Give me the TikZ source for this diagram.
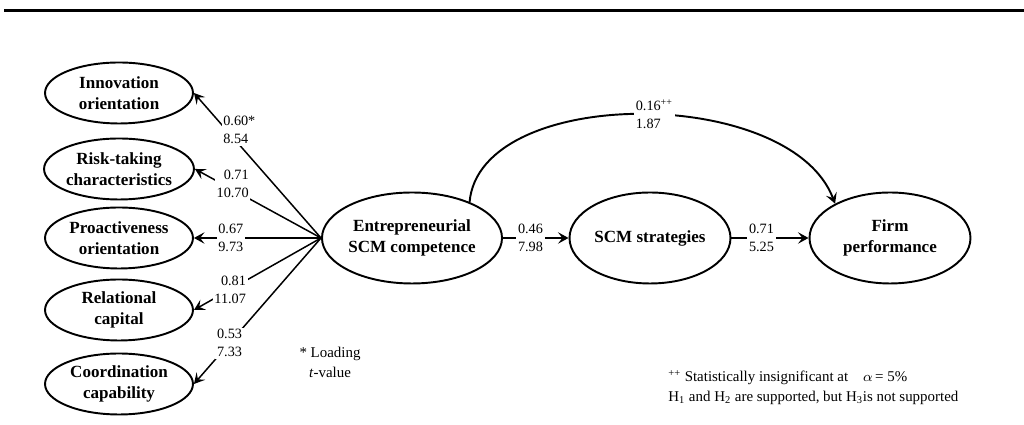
\documentclass[tikz,border=0pt]{standalone}
\usepackage{fontspec}
\setmainfont{Liberation Serif}
\usetikzlibrary{shapes.geometric,arrows.meta}

\begin{document}
\begin{tikzpicture}[x=0.02cm, y=0.02cm, >={Stealth[length=6pt,width=6.5pt,inset=2.5pt]},
    latent/.style={draw, ellipse, line width=1.1pt, inner sep=0pt, align=center, font=\fontsize{9.7}{12.3}\selectfont\bfseries},
    factor/.style={latent, minimum width=2.96cm, minimum height=1.22cm},
    construct/.style={latent, minimum width=3.22cm, minimum height=1.82cm},
    est/.style={fill=white, inner sep=1pt, align=right, font=\fontsize{8.1}{10.2}\selectfont},
    note/.style={inner sep=0pt, font=\fontsize{8.5}{11.4}\selectfont}]
    \useasboundingbox (0,0) rectangle (1024,425);
    \draw[line width=1.7pt] (4,414) -- (1024,414);

    \node[factor] (inno) at (119,332) {Innovation\\orientation};
    \node[factor] (risk) at (119,256) {Risk-taking\\characteristics};
    \node[factor] (proa) at (119,187) {Proactiveness\\orientation};
    \node[factor] (rela) at (119,115) {Relational\\capital};
    \node[factor] (coor) at (119,41) {Coordination\\capability};

    \node[construct] (ent) at (412,187) {Entrepreneurial\\SCM competence};
    \node[construct] (scm) at (650,187) {SCM strategies};
    \node[construct] (firm) at (890,187) {Firm\\performance};

    \draw[->, line width=0.85pt] (ent.west) -- (inno.east) node[est, pos=0.745, xshift=0.26cm, align=left] {0.60*\\8.54};
    \draw[->, line width=0.85pt] (ent.west) -- (risk.east) node[est, pos=0.78, xshift=0.2cm] {0.71\\10.70};
    \draw[->, line width=0.85pt] (ent.west) -- (proa.east) node[est, pos=0.71] {0.67\\9.73};
    \draw[->, line width=0.85pt] (ent.west) -- (rela.east) node[est, pos=0.715] {0.81\\11.07};
    \draw[->, line width=0.85pt] (ent.west) -- (coor.east) node[est, pos=0.72] {0.53\\7.33};

    \draw[->, line width=1.2pt] (ent.east) -- (scm.west) node[est, pos=0.42] {0.46\\7.98};
    \draw[->, line width=1.2pt] (scm.east) -- (firm.west) node[est, pos=0.39] {0.71\\5.25};
    \draw[->, line width=1.1pt] (ent.32) .. controls (480,340) and (790,340) .. (firm.148)
        node[est, pos=0.5, xshift=0.3cm, align=left] {0.16\textsuperscript{++}\\1.87};

    \node[note, align=center] (key) at (330,63) {* Loading\\\textit{t}-value};
    \node[note, anchor=west, align=left] (sig) at (668,37) {\textsuperscript{++} Statistically insignificant at\quad$\alpha$\,= 5\%\\H\textsubscript{1} and H\textsubscript{2} are supported, but H\textsubscript{3}is not supported};
\end{tikzpicture}
\end{document}
